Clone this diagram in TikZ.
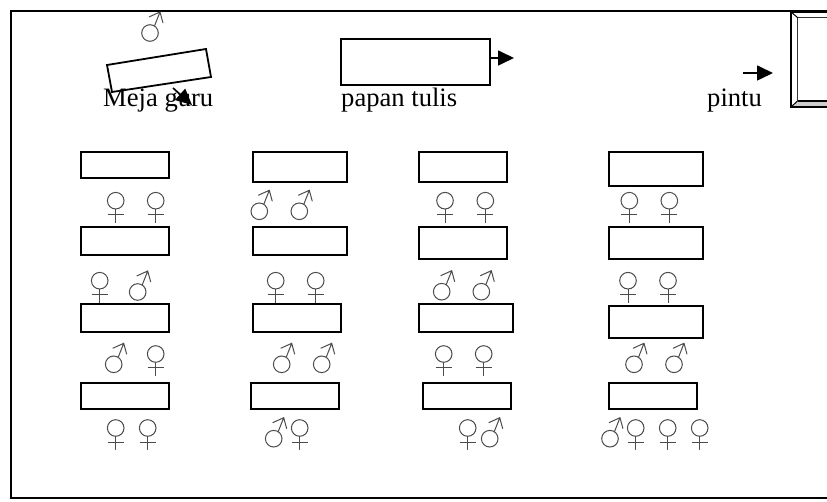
\documentclass[tikz,border=0pt]{standalone}
\usepackage{fontspec}
\setmainfont{Liberation Serif}
\usetikzlibrary{arrows.meta}
\tikzset{
	desk/.style={draw,line width=1.8pt,anchor=north west,inner sep=0pt,outer sep=0pt},
	label text/.style={anchor=base west,inner sep=0pt,font=\fontsize{26.6}{30}\selectfont},
	big arrow/.style={line width=1.6pt,-{Triangle[length=16pt,width=15pt]}},
	female/.pic={
		\draw[line width=1pt,black!70] (0,0) circle (8.3);
		\draw[line width=1pt,black!70] (0,8.3) -- (0,22) (-8,14) -- (8,14);
	},
	male/.pic={
		\draw[line width=1pt,black!70] (0,0) circle (8.3);
		\draw[line width=1pt,black!70] (4.5,-7) -- (10,-21) (-1,-16) -- (10,-21) -- (13,-10);
	}
}
\begin{document}
\begin{tikzpicture}[x=1pt,y=-1pt]
	\useasboundingbox (0,0) rectangle (827,502);
	% room
	\draw[line width=1.8pt] (827,11) -- (11,11) -- (11,498) -- (827,498);
	% door
	\fill[white] (791,12) rectangle (840,107);
	\fill[black!20] (791,107) -- (797,101) -- (840,101) -- (840,107) -- cycle;
	\draw[line width=1pt,black!80] (840,17.5) -- (797.5,17.5) -- (797.5,101);
	\draw[line width=1.8pt] (840,101) -- (797.5,101);
	\draw[line width=1.8pt] (840,12) -- (791,12) -- (791,107) -- (840,107);
	\draw[line width=1pt] (791,12) -- (797.5,17.5) (791,107) -- (797.5,101);
	\coordinate (door in) at (773,73);
	\coordinate (door out) at (743,73);
	\draw[big arrow] (door out) -- (door in);
	\node[label text] (pintu) at (707,107) {pintu};
	% teacher
	\pic (guru) at (150,33) {male};
	\coordinate (mejaA) at (107,65);
	\coordinate (mejaB) at (206,49);
	\coordinate (mejaC) at (211,77);
	\coordinate (mejaD) at (112,92);
	\draw[line width=1.8pt] (mejaA) -- (mejaB) -- (mejaC) -- (mejaD) -- cycle;
	\node[label text] (meja) at (103,107) {Meja guru};
	\coordinate (meja start) at (173,88);
	\coordinate (meja end) at (192,105);
	\draw[big arrow] (meja start) -- (meja end);
	% board
	\node[desk,minimum width=149pt,minimum height=46pt] (board) at (341,39) {};
	\coordinate (board end) at (514,58);
	\draw[big arrow] (board.east |- board end) -- (board end);
	\node[label text] (papan) at (341,107) {papan tulis};
	% desks, first column
	\node[desk,minimum width=88pt,minimum height=26pt] (a1) at (81,152) {};
	\node[desk,minimum width=88pt,minimum height=28pt] (a2) at (81,227) {};
	\node[desk,minimum width=88pt,minimum height=28pt] (a3) at (81,304) {};
	\node[desk,minimum width=88pt,minimum height=26pt] (a4) at (81,383) {};
	% second column
	\node[desk,minimum width=94pt,minimum height=30pt] (b1) at (253,152) {};
	\node[desk,minimum width=94pt,minimum height=28pt] (b2) at (253,227) {};
	\node[desk,minimum width=88pt,minimum height=28pt] (b3) at (253,304) {};
	\node[desk,minimum width=88pt,minimum height=26pt] (b4) at (251,383) {};
	% third column
	\node[desk,minimum width=88pt,minimum height=30pt] (c1) at (419,152) {};
	\node[desk,minimum width=88pt,minimum height=32pt] (c2) at (419,227) {};
	\node[desk,minimum width=94pt,minimum height=28pt] (c3) at (419,304) {};
	\node[desk,minimum width=88pt,minimum height=26pt] (c4) at (423,383) {};
	% fourth column
	\node[desk,minimum width=94pt,minimum height=34pt] (d1) at (609,152) {};
	\node[desk,minimum width=94pt,minimum height=32pt] (d2) at (609,227) {};
	\node[desk,minimum width=94pt,minimum height=32pt] (d3) at (609,306) {};
	\node[desk,minimum width=88pt,minimum height=26pt] (d4) at (609,383) {};
	% students
	\pic at (115.7,200.7) {female};
	\pic at (155.7,200.7) {female};
	\pic at (99.7,280.7) {female};
	\pic at (137.7,292) {male};
	\pic at (113.7,364.3) {male};
	\pic at (155.7,354) {female};
	\pic at (115.7,428) {female};
	\pic at (147.7,428) {female};
	\pic at (259.3,211.3) {male};
	\pic at (299.3,211.3) {male};
	\pic at (275.7,280.7) {female};
	\pic at (315.7,280.7) {female};
	\pic at (281.7,364.3) {male};
	\pic at (321.7,364.3) {male};
	\pic at (273.7,438.7) {male};
	\pic at (299.7,428) {female};
	\pic at (445,200.7) {female};
	\pic at (485.3,200.7) {female};
	\pic at (441.7,291.7) {male};
	\pic at (481.3,291.7) {male};
	\pic at (443.7,354) {female};
	\pic at (483.7,354) {female};
	\pic at (467.7,428) {female};
	\pic at (489.7,438.7) {male};
	\pic at (629.3,200.7) {female};
	\pic at (669.3,200.7) {female};
	\pic at (628,280.7) {female};
	\pic at (668,280.7) {female};
	\pic at (634,364.3) {male};
	\pic at (674,364.3) {male};
	\pic at (610,438.7) {male};
	\pic at (635.7,428) {female};
	\pic at (667.7,428) {female};
	\pic at (699.7,428) {female};
\end{tikzpicture}
\end{document}
